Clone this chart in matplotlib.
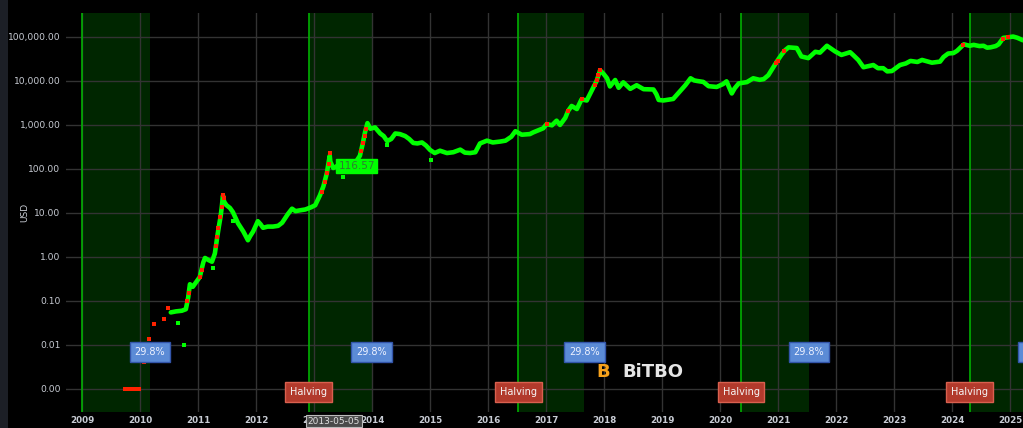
import matplotlib
matplotlib.use("Agg")
import matplotlib.pyplot as plt
import matplotlib.transforms as mtransforms
from matplotlib.patches import Rectangle
from matplotlib.ticker import FixedLocator, FuncFormatter

# ---------------------------------------------------------------------------
# data (decimal year, USD)
# ---------------------------------------------------------------------------
price_dates = [
    2010.53, 2010.62, 2010.72, 2010.79, 2010.83, 2010.86, 2010.91, 2010.97, 2011.03, 2011.09,
    2011.12, 2011.18, 2011.24, 2011.29, 2011.33, 2011.36, 2011.39, 2011.41, 2011.43, 2011.45,
    2011.49, 2011.55, 2011.60, 2011.69, 2011.78, 2011.86, 2011.90, 2011.95, 2012.03, 2012.08,
    2012.12, 2012.20, 2012.29, 2012.38, 2012.45, 2012.55, 2012.62, 2012.68, 2012.76, 2012.85,
    2012.95, 2013.02, 2013.10, 2013.16, 2013.22, 2013.27, 2013.28, 2013.33, 2013.39, 2013.46,
    2013.52, 2013.60, 2013.70, 2013.79, 2013.84, 2013.88, 2013.92, 2013.97, 2014.05, 2014.14,
    2014.20, 2014.26, 2014.33, 2014.40, 2014.48, 2014.57, 2014.64, 2014.71, 2014.78, 2014.86,
    2014.93, 2015.00, 2015.08, 2015.17, 2015.29, 2015.40, 2015.52, 2015.60, 2015.69, 2015.78,
    2015.86, 2015.98, 2016.08, 2016.21, 2016.30, 2016.40, 2016.47, 2016.58, 2016.72, 2016.78,
    2016.95, 2017.01, 2017.10, 2017.18, 2017.24, 2017.33, 2017.38, 2017.44, 2017.53, 2017.61,
    2017.70, 2017.78, 2017.87, 2017.93, 2017.99, 2018.05, 2018.10, 2018.19, 2018.25, 2018.33,
    2018.45, 2018.56, 2018.68, 2018.85, 2018.90, 2018.94, 2019.02, 2019.19, 2019.28, 2019.40,
    2019.49, 2019.55, 2019.60, 2019.71, 2019.80, 2019.94, 2020.05, 2020.11, 2020.20, 2020.25,
    2020.32, 2020.46, 2020.57, 2020.68, 2020.75, 2020.83, 2020.89, 2020.98, 2021.06, 2021.12,
    2021.18, 2021.32, 2021.40, 2021.52, 2021.64, 2021.72, 2021.84, 2021.98, 2022.09, 2022.24,
    2022.30, 2022.38, 2022.47, 2022.64, 2022.72, 2022.81, 2022.88, 2022.96, 2023.10, 2023.20,
    2023.28, 2023.40, 2023.48, 2023.65, 2023.79, 2023.85, 2023.93, 2024.02, 2024.08, 2024.20,
    2024.30, 2024.37, 2024.47, 2024.54, 2024.60, 2024.66, 2024.75, 2024.80, 2024.88, 2024.96,
    2025.05, 2025.12, 2025.22,
]
price_usd = [
    0.055, 0.058, 0.060, 0.065, 0.12, 0.24, 0.21, 0.27, 0.35, 0.75,
    0.95, 0.85, 0.78, 1.2, 2.8, 5.0, 8.5, 14, 25, 18,
    15, 13, 10.5, 5.8, 3.8, 2.4, 3.0, 3.8, 6.5, 5.5,
    4.6, 4.9, 4.9, 5.1, 6.0, 9.5, 12.5, 11.0, 11.5, 12.0,
    13.5, 15, 25, 40, 80, 200, 147, 105, 113, 100,
    90, 110, 130, 200, 380, 700, 1100, 820, 880, 640,
    560, 430, 480, 640, 620, 560, 480, 390, 380, 400,
    340, 270, 230, 260, 230, 240, 275, 235, 230, 240,
    380, 440, 400, 420, 440, 540, 720, 600, 620, 680,
    840, 1050, 980, 1250, 1000, 1450, 2100, 2700, 2300, 3800,
    3600, 5800, 10000, 17500, 14500, 11500, 7500, 10500, 7000, 9300,
    6600, 8000, 6500, 6400, 5000, 3700, 3600, 3900, 5300, 8000,
    11500, 10300, 10000, 9500, 7600, 7300, 8500, 9800, 5200, 6800,
    8800, 9400, 11500, 10600, 11000, 13500, 18000, 28000, 40000, 50000,
    58000, 56000, 36000, 33000, 46000, 44000, 63000, 47000, 39000, 45000,
    38000, 30000, 20500, 23000, 19500, 19500, 16500, 16800, 23000, 25000,
    28500, 27000, 30000, 26000, 27500, 35000, 42000, 43000, 48000, 68000,
    63000, 66000, 62000, 63000, 57000, 58000, 62000, 68000, 95000, 98000,
    102000, 96000, 84000,
]

# days flagged red (fast rises)
red_dates = [
    2009.74, 2009.78, 2009.82, 2009.86, 2009.90, 2009.94, 2009.98, 2010.07, 2010.16, 2010.24,
    2010.41, 2010.48, 2010.81, 2010.84, 2011.03, 2011.06, 2011.31, 2011.33, 2011.35, 2011.38,
    2011.41, 2011.43, 2011.44, 2013.13, 2013.18, 2013.22, 2013.25, 2013.27, 2013.81, 2013.84,
    2013.87, 2013.89, 2017.01, 2017.38, 2017.61, 2017.84, 2017.87, 2017.90, 2017.93, 2020.96,
    2020.99, 2021.10, 2024.18, 2024.87, 2024.97,
]
red_usd = [
    0.001, 0.001, 0.001, 0.001, 0.001, 0.001, 0.001, 0.004, 0.0137, 0.030,
    0.039, 0.069, 0.10, 0.15, 0.35, 0.5, 1.8, 2.8, 4.5, 8.0,
    14, 25, 22, 30, 50, 80, 130, 230, 260, 380,
    550, 800, 1050, 2100, 3800, 8000, 10500, 14000, 17500, 25000,
    29000, 48000, 66000, 90000, 100000,
]

# stray green days away from the line
stray_dates = [2010.65, 2010.76, 2011.25, 2011.60, 2013.50, 2014.25, 2015.01]
stray_usd = [0.031, 0.010, 0.56, 6.6, 67, 350, 160]

# shaded 29.8% windows after each halving
band_start = [2009.00, 2012.91, 2016.52, 2020.36, 2024.30]
band_end = [2010.17, 2013.99, 2017.66, 2021.53, 2025.49]
halving_dates = [2012.91, 2016.52, 2020.36, 2024.30]
band_label = "29.8%"

year_ticks = list(range(2009, 2026))
usd_ticks = [0.001, 0.01, 0.1, 1, 10, 100, 1000, 10000, 100000]

hover_date = 2013.34
hover_usd = 116.57
hover_text = "2013-05-05"

# ---------------------------------------------------------------------------
# figure
# ---------------------------------------------------------------------------
fig = plt.figure(figsize=(10.23, 4.28), dpi=100, facecolor="black")
fig.patches.append(Rectangle((0, 0), 8 / 1023, 1, transform=fig.transFigure,
                             facecolor="#1c1f26", edgecolor="none", zorder=-10))

ax = fig.add_axes([66 / 1023, 16 / 428, 957 / 1023, 399 / 428])
ax.set_facecolor("black")
ax.set_yscale("log")
ax.set_xlim(2008.724, 2025.22)
ax.set_ylim(3.0e-4, 3.5e5)

for s in ax.spines.values():
    s.set_visible(False)

ax.xaxis.set_major_locator(FixedLocator(year_ticks))
ax.xaxis.set_major_formatter(FuncFormatter(lambda v, p: f"{int(round(v))}"))
ax.yaxis.set_major_locator(FixedLocator(usd_ticks))
ax.yaxis.set_minor_locator(FixedLocator([]))
ax.yaxis.set_major_formatter(FuncFormatter(lambda v, p: f"{v:,.2f}"))
ax.tick_params(axis="both", length=0, colors="#c8ccd4")
ax.tick_params(axis="x", pad=3, labelsize=6.3)
ax.tick_params(axis="y", pad=4, labelsize=6.6)
for lbl in ax.get_xticklabels():
    lbl.set_fontweight("bold")
ax.grid(True, color="#333333", linewidth=1, zorder=1)
ax.set_axisbelow(True)
ax.set_ylabel("USD", color="#c8ccd4", fontsize=6.5)
ax.yaxis.set_label_coords(-37 / 957, 0.5)

# halving windows
for x0, x1 in zip(band_start, band_end):
    ax.axvspan(x0, x1, facecolor="#002600", edgecolor="none", zorder=0.5)
    ax.axvline(x0, color="#00b000", linewidth=1.2, zorder=1.5)

# price line
ax.plot(price_dates, price_usd, color="#00ff00", linewidth=3.3, solid_joinstyle="round",
        solid_capstyle="round", zorder=3)
ax.scatter(stray_dates, stray_usd, s=5, marker="s", color="#00ff00", linewidths=0, zorder=3)
ax.scatter(red_dates, red_usd, s=5, marker="s", color="#ff2200", linewidths=0, zorder=4)

# labels on the windows
blue_y = 0.0069
red_y = 0.00085
for x1 in band_end:
    ax.text(x1, blue_y, band_label, ha="center", va="center", fontsize=7, color="#eef2ff",
            clip_on=False, zorder=6,
            bbox=dict(boxstyle="square,pad=0.5", facecolor="#5b8bd6", edgecolor="#3355aa", linewidth=1))
for x0 in halving_dates:
    ax.text(x0, red_y, "Halving", ha="center", va="center", fontsize=7, color="#f5f5f5",
            clip_on=False, zorder=6,
            bbox=dict(boxstyle="square,pad=0.5", facecolor="#b23a2c", edgecolor="#d9604f", linewidth=1))

# hover value label
ax.scatter([hover_date + 0.04], [hover_usd], marker="<", s=28, color="#00ff00", zorder=7)
ax.text(hover_date + 0.08, hover_usd, f"{hover_usd:.2f}", ha="left", va="center", fontsize=7.5,
        color="#2f7d2f", zorder=7,
        bbox=dict(boxstyle="square,pad=0.2", facecolor="#00ff00", edgecolor="#00ff00"))

# hover date label under the axis
trans = mtransforms.blended_transform_factory(ax.transData, fig.transFigure)
ax.text(hover_date, 0.016, hover_text, transform=trans, ha="center", va="center", fontsize=6.5,
        color="#e0e0e0", clip_on=False, zorder=8,
        bbox=dict(boxstyle="square,pad=0.2", facecolor="#4a4a4a", edgecolor="#bbbbbb", linewidth=0.8))

# watermark
ax.text(0.561, 0.10, "B", transform=ax.transAxes, ha="center", va="center", fontsize=13,
        fontweight="bold", color="#f7a21b", zorder=2)
ax.text(0.613, 0.10, "BiTBO", transform=ax.transAxes, ha="center", va="center", fontsize=13,
        fontweight="bold", color="#e6e6e6", zorder=2)

fig.savefig("out.png", dpi=100, facecolor=fig.get_facecolor())
